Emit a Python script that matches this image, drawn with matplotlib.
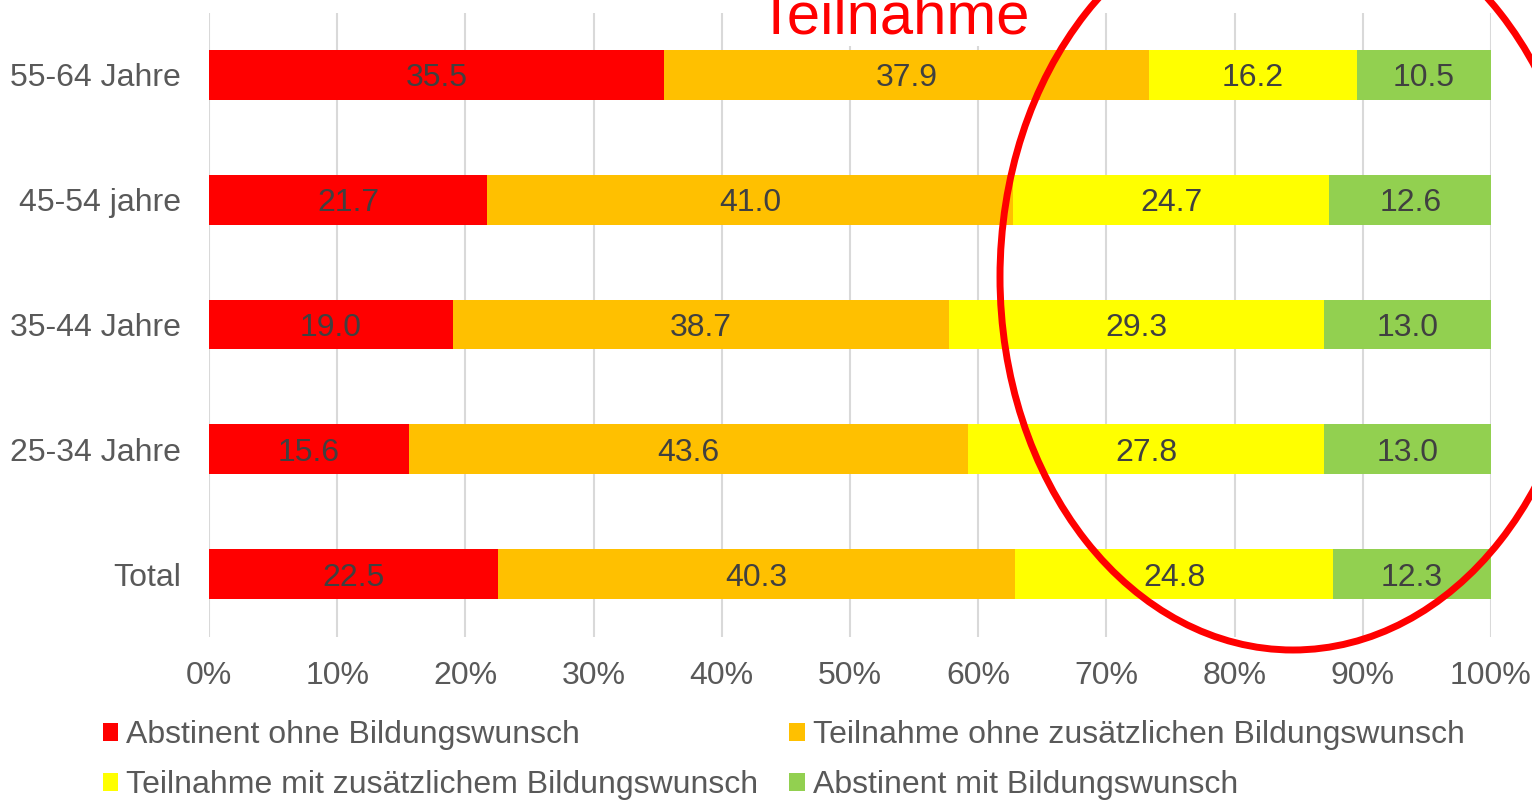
import matplotlib.pyplot as plt
from matplotlib.patches import Patch, Ellipse
import numpy as np

plt.rcParams['font.family'] = ['Liberation Sans', 'DejaVu Sans']

# Altersgruppen (von unten nach oben)
gruppen = ['Total', '25-34 Jahre', '35-44 Jahre', '45-54 jahre', '55-64 Jahre']

serien = ['Abstinent ohne Bildungswunsch',
          'Teilnahme ohne zusätzlichen Bildungswunsch',
          'Teilnahme mit zusätzlichem Bildungswunsch',
          'Abstinent mit Bildungswunsch']
farben = ['#FF0000', '#FFC000', '#FFFF00', '#92D050']

abstinent_ohne = [22.5, 15.6, 19.0, 21.7, 35.5]
teilnahme_ohne = [40.3, 43.6, 38.7, 41.0, 37.9]
teilnahme_mit = [24.8, 27.8, 29.3, 24.7, 16.2]
abstinent_mit = [12.3, 13.0, 13.0, 12.6, 10.5]

werte = np.array([abstinent_ohne, teilnahme_ohne, teilnahme_mit, abstinent_mit])
anteile = werte / werte.sum(axis=0) * 100  # 100%-gestapelt

W, H = 1532, 802
fig = plt.figure(figsize=(W / 100, H / 100), dpi=100)
ax = fig.add_axes([209 / W, 1 - 636.5 / H, (1491 - 209) / W, 624 / H])

y = np.arange(len(gruppen))
links = np.zeros(len(gruppen))
for i in range(len(serien)):
    ax.barh(y, anteile[i], left=links, height=0.4, color=farben[i],
            label=serien[i], zorder=2)
    for j in range(len(gruppen)):
        ax.text(links[j] + anteile[i][j] / 2, y[j], f'{werte[i][j]:.1f}',
                ha='center', va='center_baseline', fontsize=23,
                color='#404040', zorder=3)
    links += anteile[i]

ax.set_xlim(0, 100)
ax.set_ylim(-0.5, len(gruppen) - 0.5)
ax.set_xticks(range(0, 101, 10))
ax.set_xticklabels([f'{t}%' for t in range(0, 101, 10)])
ax.set_yticks(y)
ax.set_yticklabels(gruppen, va='center_baseline')
ax.tick_params(axis='x', length=0, pad=18, labelsize=23, labelcolor='#595959')
ax.tick_params(axis='y', length=0, pad=20, labelsize=23, labelcolor='#595959')
ax.grid(axis='x', color='#D9D9D9', linewidth=1.5, zorder=0)
ax.set_axisbelow(True)
for s in ax.spines.values():
    s.set_visible(False)

# Legende zeilenweise: Reihenfolge für ncol=2 umsortieren
reihenfolge = [0, 2, 1, 3]
handles = [Patch(facecolor=farben[k], edgecolor='none') for k in reihenfolge]
labels = [serien[k] for k in reihenfolge]
fig.legend(handles, labels, loc='upper left', bbox_to_anchor=(103 / W, 1 - 720 / H),
           ncol=2, frameon=False, fontsize=23, labelcolor='#595959',
           handlelength=0.48, handleheight=0.48, handletextpad=0.25,
           columnspacing=0.97, labelspacing=0.64, borderpad=0, borderaxespad=0)

# Markierung
fig.text(758 / W, 1 - 34 / H, 'Teilnahme', color='#FF0000', fontsize=43,
         ha='left', va='baseline',
         bbox=dict(facecolor='white', edgecolor='none', pad=0))
fig.add_artist(Ellipse((1293 / W, 1 - 277 / H), 586 / W, 746 / H,
                       transform=fig.transFigure, fill=False,
                       edgecolor='#FF0000', linewidth=5, zorder=5))

fig.savefig('out.png', dpi=100)
